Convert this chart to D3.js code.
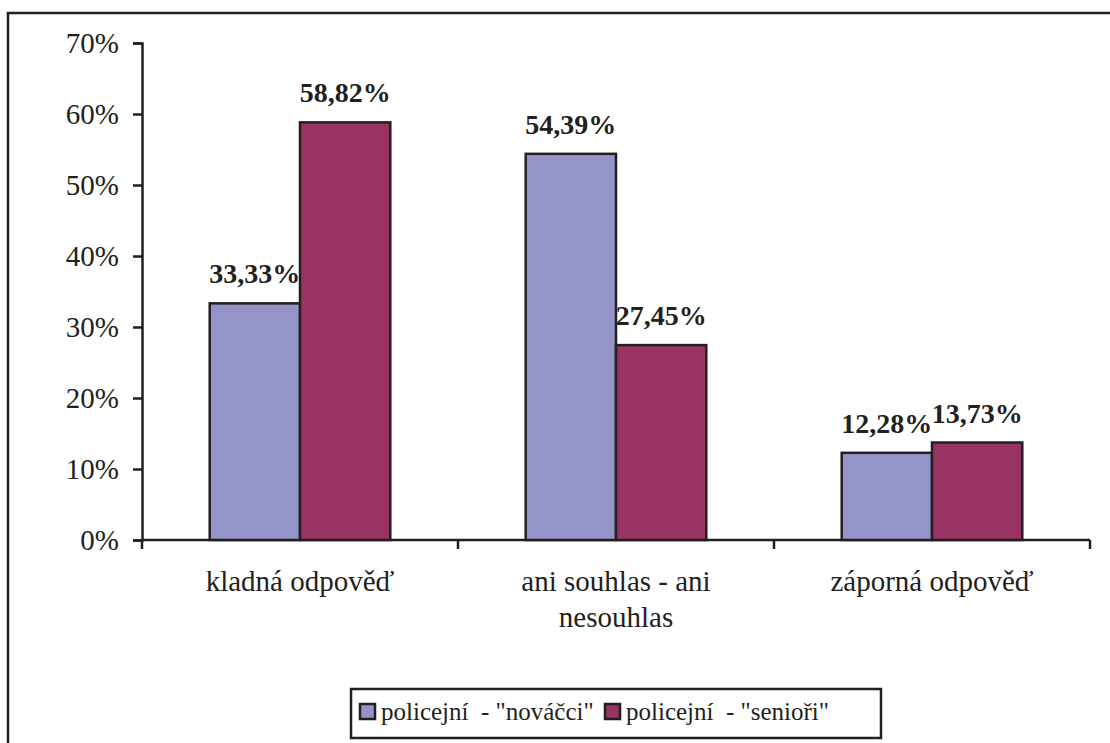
<!DOCTYPE html>
<html>
<head>
<meta charset="utf-8">
<script src="https://cdn.jsdelivr.net/npm/d3@7/dist/d3.min.js"></script>
<style>
  html, body { margin: 0; padding: 0; background: #fff; }
  svg { display: block; }
  svg text { font-family: "Liberation Serif", "Times New Roman", Tinos, "DejaVu Serif", serif; fill: #231f20; }
</style>
</head>
<body>
<svg id="chart" width="1110" height="743"></svg>
<script>
// Answers grouped by category, one value per respondent group (percent)
const categories = [["kladná odpověď"], ["ani souhlas - ani", "nesouhlas"], ["záporná odpověď"]];
const seriesNames = ['policejní  - "nováčci"', 'policejní  - "senioři"'];
const novacci = [33.33, 54.39, 12.28];
const seniori = [58.82, 27.45, 13.73];
const yTicks = [0, 10, 20, 30, 40, 50, 60, 70];
const seriesColors = ["#9494c8", "#983363"];

const ink = "#231f20";
const serif = '"Liberation Serif", "Times New Roman", Tinos, "DejaVu Serif", serif';
const svg = d3.select("#chart");

// outer chart frame (continues past the right and bottom edges)
svg.append("rect")
  .attr("x", 8).attr("y", 13)
  .attr("width", 1300).attr("height", 900)
  .attr("fill", "none").attr("stroke", ink).attr("stroke-width", 2.5);

const plot = { left: 142, right: 1090, top: 43, bottom: 540 };

const x0 = d3.scaleBand()
  .domain(d3.range(categories.length))
  .range([plot.left, plot.right])
  .paddingInner(0).paddingOuter(0);

const bw = x0.bandwidth() / 3.5;  // two bars + 150% gap

const y = d3.scaleLinear().domain([0, 70]).range([plot.bottom, plot.top]);

// y axis
const yAxis = d3.axisLeft(y)
  .tickValues(yTicks)
  .tickFormat(d => d + "%")
  .tickSize(9)
  .tickPadding(14);

const gy = svg.append("g")
  .attr("transform", `translate(${plot.left},0)`)
  .call(yAxis)
  .attr("font-family", serif)
  .attr("font-size", 29);
gy.select(".domain").attr("stroke", ink).attr("stroke-width", 2.5);
gy.selectAll(".tick line").attr("stroke", ink).attr("stroke-width", 2.5);
gy.selectAll(".tick text").attr("fill", ink);

// x axis with category boundary ticks
const boundaries = d3.range(categories.length + 1).map(i => plot.left + i * x0.bandwidth());
svg.append("line")
  .attr("x1", plot.left).attr("x2", plot.right)
  .attr("y1", plot.bottom).attr("y2", plot.bottom)
  .attr("stroke", ink).attr("stroke-width", 2.5);
svg.selectAll(".xtick").data(boundaries).join("line")
  .attr("class", "xtick")
  .attr("x1", d => d).attr("x2", d => d)
  .attr("y1", plot.bottom).attr("y2", plot.bottom + 9)
  .attr("stroke", ink).attr("stroke-width", 2.5);

// bars
const series = [novacci, seniori];
series.forEach((vals, si) => {
  const g = svg.append("g");
  vals.forEach((v, ci) => {
    const cx = x0(ci) + x0.bandwidth() / 2;
    const bx = cx - bw + si * bw;
    g.append("rect")
      .attr("x", bx).attr("y", y(v))
      .attr("width", bw).attr("height", y(0) - y(v))
      .attr("fill", seriesColors[si])
      .attr("stroke", ink).attr("stroke-width", 2.5);
    g.append("text")
      .attr("x", bx + bw / 2).attr("y", y(v) - 20)
      .attr("text-anchor", "middle")
      .attr("font-family", serif)
      .attr("font-size", 28).attr("font-weight", "bold")
      .text(v.toFixed(2).replace(".", ",") + "%");
  });
});

// category labels
categories.forEach((lines, ci) => {
  const cx = x0(ci) + x0.bandwidth() / 2;
  lines.forEach((line, li) => {
    svg.append("text")
      .attr("x", cx).attr("y", 591 + li * 36)
      .attr("text-anchor", "middle")
      .attr("font-family", serif)
      .attr("font-size", 29)
      .text(line);
  });
});

// legend
const legend = svg.append("g");
legend.append("rect")
  .attr("x", 351).attr("y", 689).attr("width", 530).attr("height", 49)
  .attr("fill", "#fff").attr("stroke", ink).attr("stroke-width", 2.5);
const legendX = [360, 605];
seriesNames.forEach((name, i) => {
  legend.append("rect")
    .attr("x", legendX[i]).attr("y", 704).attr("width", 15).attr("height", 15)
    .attr("fill", seriesColors[i]).attr("stroke", ink).attr("stroke-width", 2.5);
  legend.append("text")
    .attr("x", legendX[i] + 21).attr("y", 720)
    .attr("font-family", serif)
    .attr("font-size", 25)
    .style("white-space", "pre")
    .text(name);
});
</script>
</body>
</html>
